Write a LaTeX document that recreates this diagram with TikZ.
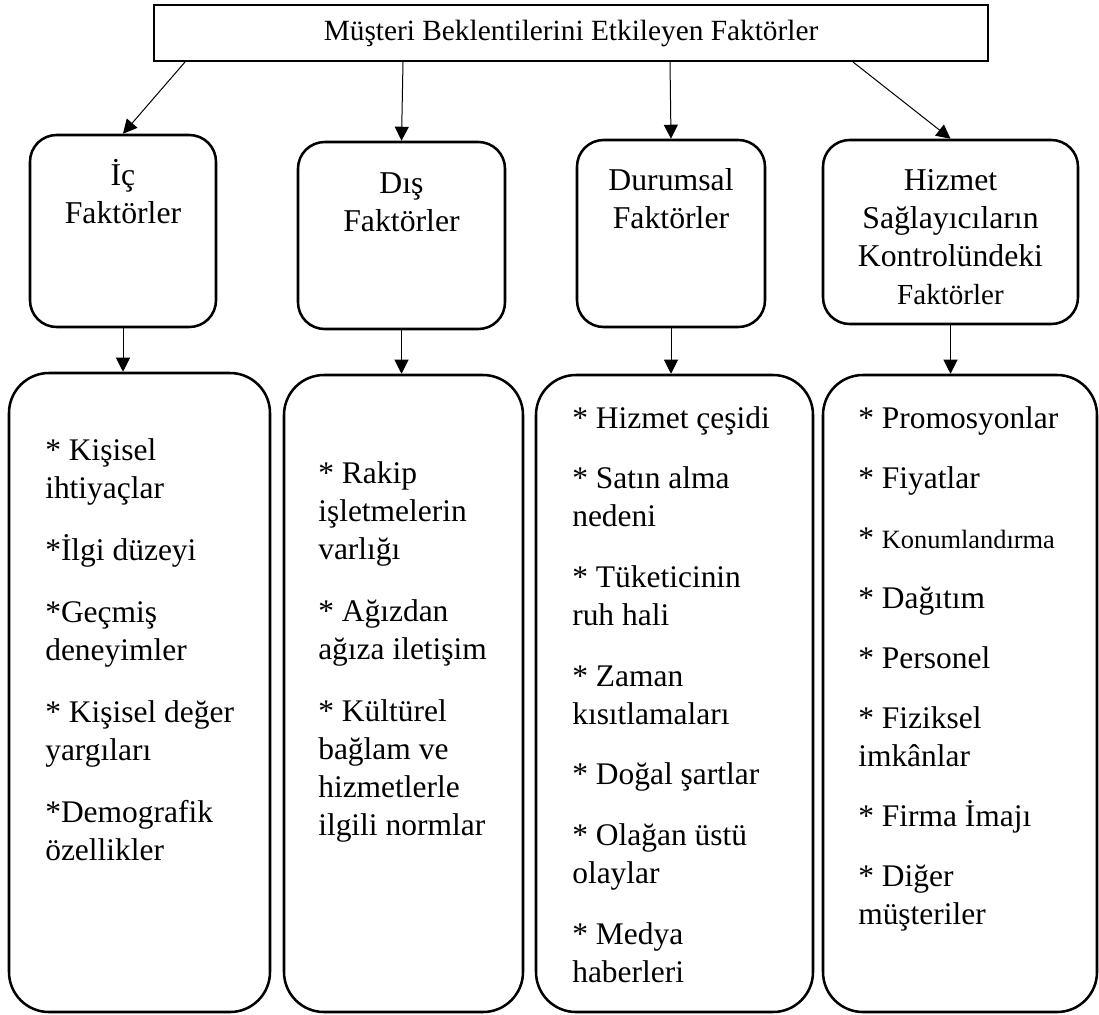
\documentclass[tikz,border=0pt]{standalone}
\usepackage{fontspec}
\setmainfont{Liberation Serif}
\usepackage{xcolor}
\usetikzlibrary{arrows.meta,positioning,calc}
\definecolor{Ink}{HTML}{000000}
\tikzset{titlebox/.style={rectangle,draw=Ink,line width=1.5pt,minimum width=625.5pt,minimum height=42pt,inner sep=0pt,text=Ink,font=\fontsize{22}{26}\selectfont},factorbox/.style={rectangle,rounded corners=20pt,draw=Ink,line width=1.9pt,inner sep=0pt},listbox/.style={rectangle,rounded corners=30pt,draw=Ink,line width=1.9pt,minimum height=477.75pt,inner sep=0pt},factorlabel/.style={anchor=north,align=center,inner sep=0pt,text=Ink,font=\fontsize{23.8}{28.5}\selectfont},listlabel/.style={anchor=north west,align=left,inner sep=0pt,text=Ink,font=\fontsize{23.6}{28.5}\selectfont},link/.style={draw=Ink,line width=0.75pt,-{Triangle[length=10.5pt,width=10.5pt]}}}
\begin{document}
\begin{tikzpicture}[x=0.75pt,y=-0.75pt]
\useasboundingbox (0,0) rectangle (1099,1014);
\node[titlebox] (title) at (571,33) {Müşteri Beklentilerini Etkileyen Faktörler};
\node[factorbox,minimum width=139.5pt,minimum height=144pt] (ic) at (123,231) {};
\node[factorbox,minimum width=155.25pt,minimum height=140.25pt] (dis) at (401.5,235.5) {};
\node[factorbox,minimum width=141pt,minimum height=140.25pt] (durum) at (671,233.5) {};
\node[factorbox,minimum width=191.25pt,minimum height=138pt] (hizmet) at (950.5,232) {};
\node[factorlabel] (ic-label) at (123,158.4) {\strut İç\\Faktörler};
\node[factorlabel] (dis-label) at (401.5,166.4) {\strut Dış\\Faktörler};
\node[factorlabel] (durum-label) at (671,163.4) {\strut Durumsal\\Faktörler};
\node[factorlabel] (hizmet-label) at (950.5,163.4) {\strut Hizmet\\Sağlayıcıların\\Kontrolündeki\\{\fontsize{21.8}{28.5}\selectfont Faktörler}};
\node[listbox,minimum width=195.75pt,minimum height=479.25pt] (ic-list) at (139.5,692.5) {};
\node[listbox,minimum width=179.25pt] (dis-list) at (403.5,693.5) {};
\node[listbox,minimum width=207.75pt] (durum-list) at (674.5,693.5) {};
\node[listbox,minimum width=205.5pt] (hizmet-list) at (960,693.5) {};
\node[listlabel] (ic-items) at (45,433.4) {\strut* Kişisel\\ihtiyaçlar\\[18pt]*İlgi düzeyi\\[18pt]*Geçmiş\\deneyimler\\[18pt]* Kişisel değer\\yargıları\\[18pt]*Demografik\\özellikler};
\node[listlabel] (dis-items) at (318,456.4) {\strut* Rakip\\işletmelerin\\varlığı\\[18pt]* Ağızdan\\ağıza iletişim\\[18pt]* Kültürel\\bağlam ve\\hizmetlerle\\ilgili normlar};
\node[listlabel] (durum-items) at (572,401.4) {\strut* Hizmet çeşidi\\[17pt]* Satın alma\\nedeni\\[17pt]* Tüketicinin\\ruh hali\\[17pt]* Zaman\\kısıtlamaları\\[17pt]* Doğal şartlar\\[17pt]* Olağan üstü\\olaylar\\[17pt]* Medya\\haberleri};
\node[listlabel] (hizmet-items) at (858,401.4) {\strut* Promosyonlar\\[16.5pt]* Fiyatlar\\[16.5pt]* {\fontsize{19.8}{28.5}\selectfont Konumlandırma}\\[16.5pt]* Dağıtım\\[16.5pt]* Personel\\[16.5pt]* Fiziksel\\imkânlar\\[16.5pt]* Firma İmajı\\[16.5pt]* Diğer\\müşteriler};
\draw[link] ($(title.south west)+(32,0)$) -- (ic.north);\draw[link] ($(title.south west)+(250,0)$) -- (dis.north);
\draw[link] ($(title.south west)+(517,0)$) -- (durum.north);\draw[link] ($(title.south west)+(700,0)$) -- (hizmet.north);
\draw[link] (ic.south) -- (ic.south |- ic-list.north);\draw[link] (dis.south) -- (dis.south |- dis-list.north);
\draw[link] (durum.south) -- (durum.south |- durum-list.north);\draw[link] (hizmet.south) -- (hizmet.south |- hizmet-list.north);
\end{tikzpicture}
\end{document}
